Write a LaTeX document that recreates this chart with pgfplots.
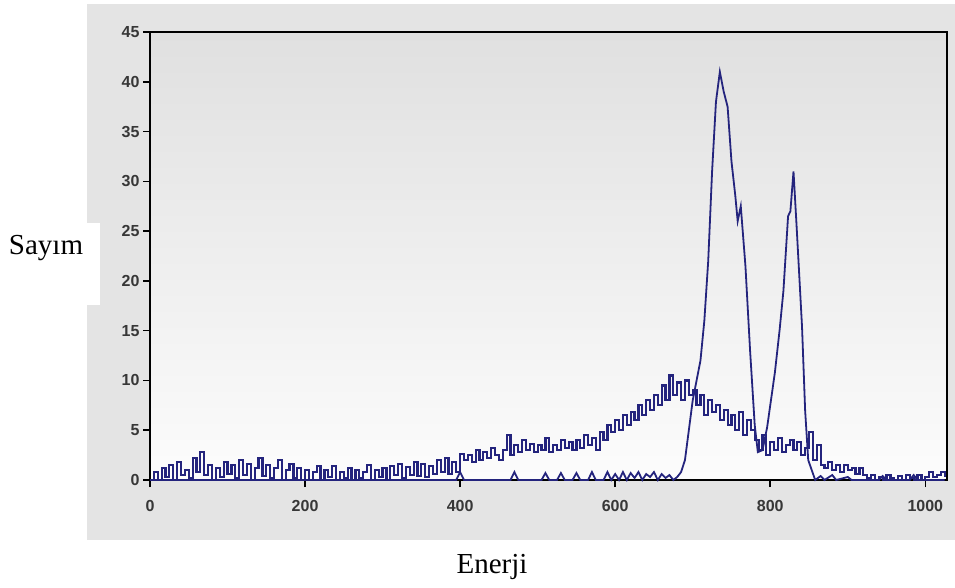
\documentclass[border=0pt]{standalone}
\usepackage{pgfplots}
\pgfplotsset{compat=1.18}
\usepackage{fontspec}
\setmainfont{Liberation Serif}
\setsansfont{Liberation Sans}
\definecolor{navy}{RGB}{36,36,125}
\definecolor{panel}{RGB}{228,228,228}
\definecolor{bgtop}{RGB}{224,224,224}
\definecolor{bgbot}{RGB}{252,252,252}
\definecolor{ticktext}{RGB}{55,55,55}
\begin{document}
\begin{tikzpicture}
\useasboundingbox (0pt,0pt) rectangle (955pt,587pt);
\fill[panel] (87pt,47pt) rectangle (955pt,583pt);
\fill[white] (0pt,282pt) rectangle (100pt,364pt);
\node[anchor=base,font=\fontsize{29}{29}\selectfont] at (46pt,332pt) {Sayım};
\node[anchor=base,font=\fontsize{29}{29}\selectfont] at (492pt,14pt) {Enerji};
\begin{axis}[
  at={(150pt,107pt)}, anchor=south west,
  scale only axis, width=797pt, height=448pt,
  xmin=0, xmax=1028, ymin=0, ymax=45,
  xtick={0,200,400,600,800,1000}, ytick={0,5,...,45},
  axis background/.style={top color=bgtop, bottom color=bgbot},
  axis line style={black, line width=2pt},
  tick style={black, line width=1.6pt},
  major tick length=7pt, tick align=outside, tick pos=left,
  ticklabel style={font=\fontsize{16}{16}\selectfont\bfseries\sffamily, text=ticktext},
  /pgf/number format/assume math mode=true,
  /pgf/number format/1000 sep={},
  xticklabel style={yshift=-10pt},
  clip=false,
]
% continuum spectrum
\addplot[const plot, navy, line width=2.2pt] coordinates {
(0,0) (5,0.8) (10,0) (15,1.2) (20,0.3) (25,1.5) (30,0) (35,1.8) (40,0.5) (45,1.0)
(50,0.2) (55,2.2) (60,0.8) (65,2.8) (70,0.5) (75,1.5) (80,0) (85,1.2) (90,0.3) (95,1.8)
(100,0.6) (105,1.5) (110,0.2) (115,2.0) (120,0.5) (125,1.6) (130,0) (135,1.2) (140,2.2) (145,0.4)
(150,1.5) (155,0.2) (160,1.2) (165,2.0) (170,0) (175,1.0) (180,1.6) (185,0.2) (190,1.2) (195,0)
(200,1.0) (205,0) (210,0.8) (215,1.4) (220,0) (225,1.0) (230,0.3) (235,1.4) (240,0) (245,0.8)
(250,0.2) (255,1.2) (260,0) (265,1.0) (270,0.2) (275,0.8) (280,1.5) (285,0) (290,1.0) (295,0.3)
(300,1.2) (305,0) (310,1.4) (315,0.5) (320,1.6) (325,0.2) (330,1.3) (335,0.5) (340,1.8) (345,0.4)
(350,1.6) (355,0.3) (360,1.4) (365,0.6) (370,2.0) (375,0.8) (380,2.2) (385,0.6) (390,1.8) (395,0.8)
(400,2.6) (405,2.0) (410,2.5) (415,1.8) (420,3.0) (425,2.0) (430,2.8) (435,2.2) (440,3.2) (445,2.5)
(450,2.0) (455,3.0) (460,4.5) (465,2.5) (470,3.5) (475,2.8) (480,4.0) (485,3.0) (490,3.6) (495,2.8)
(500,3.5) (505,3.0) (510,4.2) (515,2.8) (520,3.5) (525,3.0) (530,4.0) (535,3.2) (540,3.8) (545,3.0)
(550,4.0) (555,3.2) (560,4.5) (565,3.5) (570,4.2) (575,3.0) (580,4.8) (585,4.0) (590,5.5) (595,4.8)
(600,6.0) (605,5.0) (610,6.5) (615,5.5) (620,6.8) (625,6.0) (630,7.5) (635,6.5) (640,8.0) (645,7.0)
(650,8.5) (655,7.5) (660,9.5) (665,8.0) (670,10.5) (675,8.5) (680,9.8) (685,8.0) (690,10.0) (695,8.5)
(700,9.0) (705,7.5) (710,8.5) (715,6.5) (720,8.0) (725,6.8) (730,7.5) (735,6.0) (740,7.0) (745,5.5)
(750,6.5) (755,5.0) (760,6.8) (765,4.5) (770,6.0) (775,5.0) (780,4.0) (785,3.0) (790,4.5) (795,2.5)
(800,3.8) (805,3.0) (810,4.2) (815,2.8) (820,3.5) (825,4.0) (830,3.0) (835,3.8) (840,2.5) (845,3.2)
(850,4.8) (855,2.0) (860,3.5) (865,1.5) (870,1.2) (875,1.8) (880,1.0) (885,1.5) (890,0.8) (895,1.5)
(900,1.0) (905,1.2) (910,0.6) (915,1.2) (920,0.5) (925,0.2) (930,0.5) (935,0.0) (940,0.3) (945,0.0)
(950,0.5) (955,0.2) (960,0.0) (965,0.4) (970,0.0) (975,0.5) (980,0.2) (985,0.0) (990,0.5) (995,0.0)
(1000,0.3) (1005,0.8) (1010,0.3) (1015,0.5) (1020,0.8) (1025,0.3)
};
% peak spectrum
\addplot[navy, line width=1.8pt] coordinates {
(0,0) (395,0) (400,0.8) (405,0) (465,0) (470,0.8) (475,0) (505,0) (510,0.7) (515,0)
(525,0) (530,0.7) (535,0) (545,0) (550,0.7) (555,0) (565,0) (570,0.8) (575,0) (585,0)
(590,0.8) (595,0) (600,0.6) (605,0) (610,0.8) (615,0) (620,0.7) (625,0.2) (630,0.8) (635,0)
(640,0.6) (645,0.3) (650,0.8) (655,0) (660,0.6) (665,0.2) (670,0.5) (675,0) (680,0.3) (685,0.8)
(690,2.0) (695,5.0) (700,8.0) (705,10.0) (710,12.0) (715,16.0) (720,22.0) (725,31.0) (730,38.0) (735,41.0)
(740,39.0) (745,37.5) (750,32.0) (755,28.5) (758,26.0) (762,27.5) (768,21.5) (774,13.0) (780,5.5) (784,2.8)
(790,3.0) (796,5.3) (806,10.8) (812,15.0) (817,19.0) (823,26.5) (826,27.0) (830,31.0) (834,25.5) (841,15.4)
(845,7.0) (849,2.0) (858,0) (865,0.4) (870,0) (880,0.5) (885,0) (900,0.3) (905,0) (940,0)
(945,0.4) (950,0) (980,0) (985,0.5) (990,0) (1025,0)
};
\end{axis}
\end{tikzpicture}
\end{document}
